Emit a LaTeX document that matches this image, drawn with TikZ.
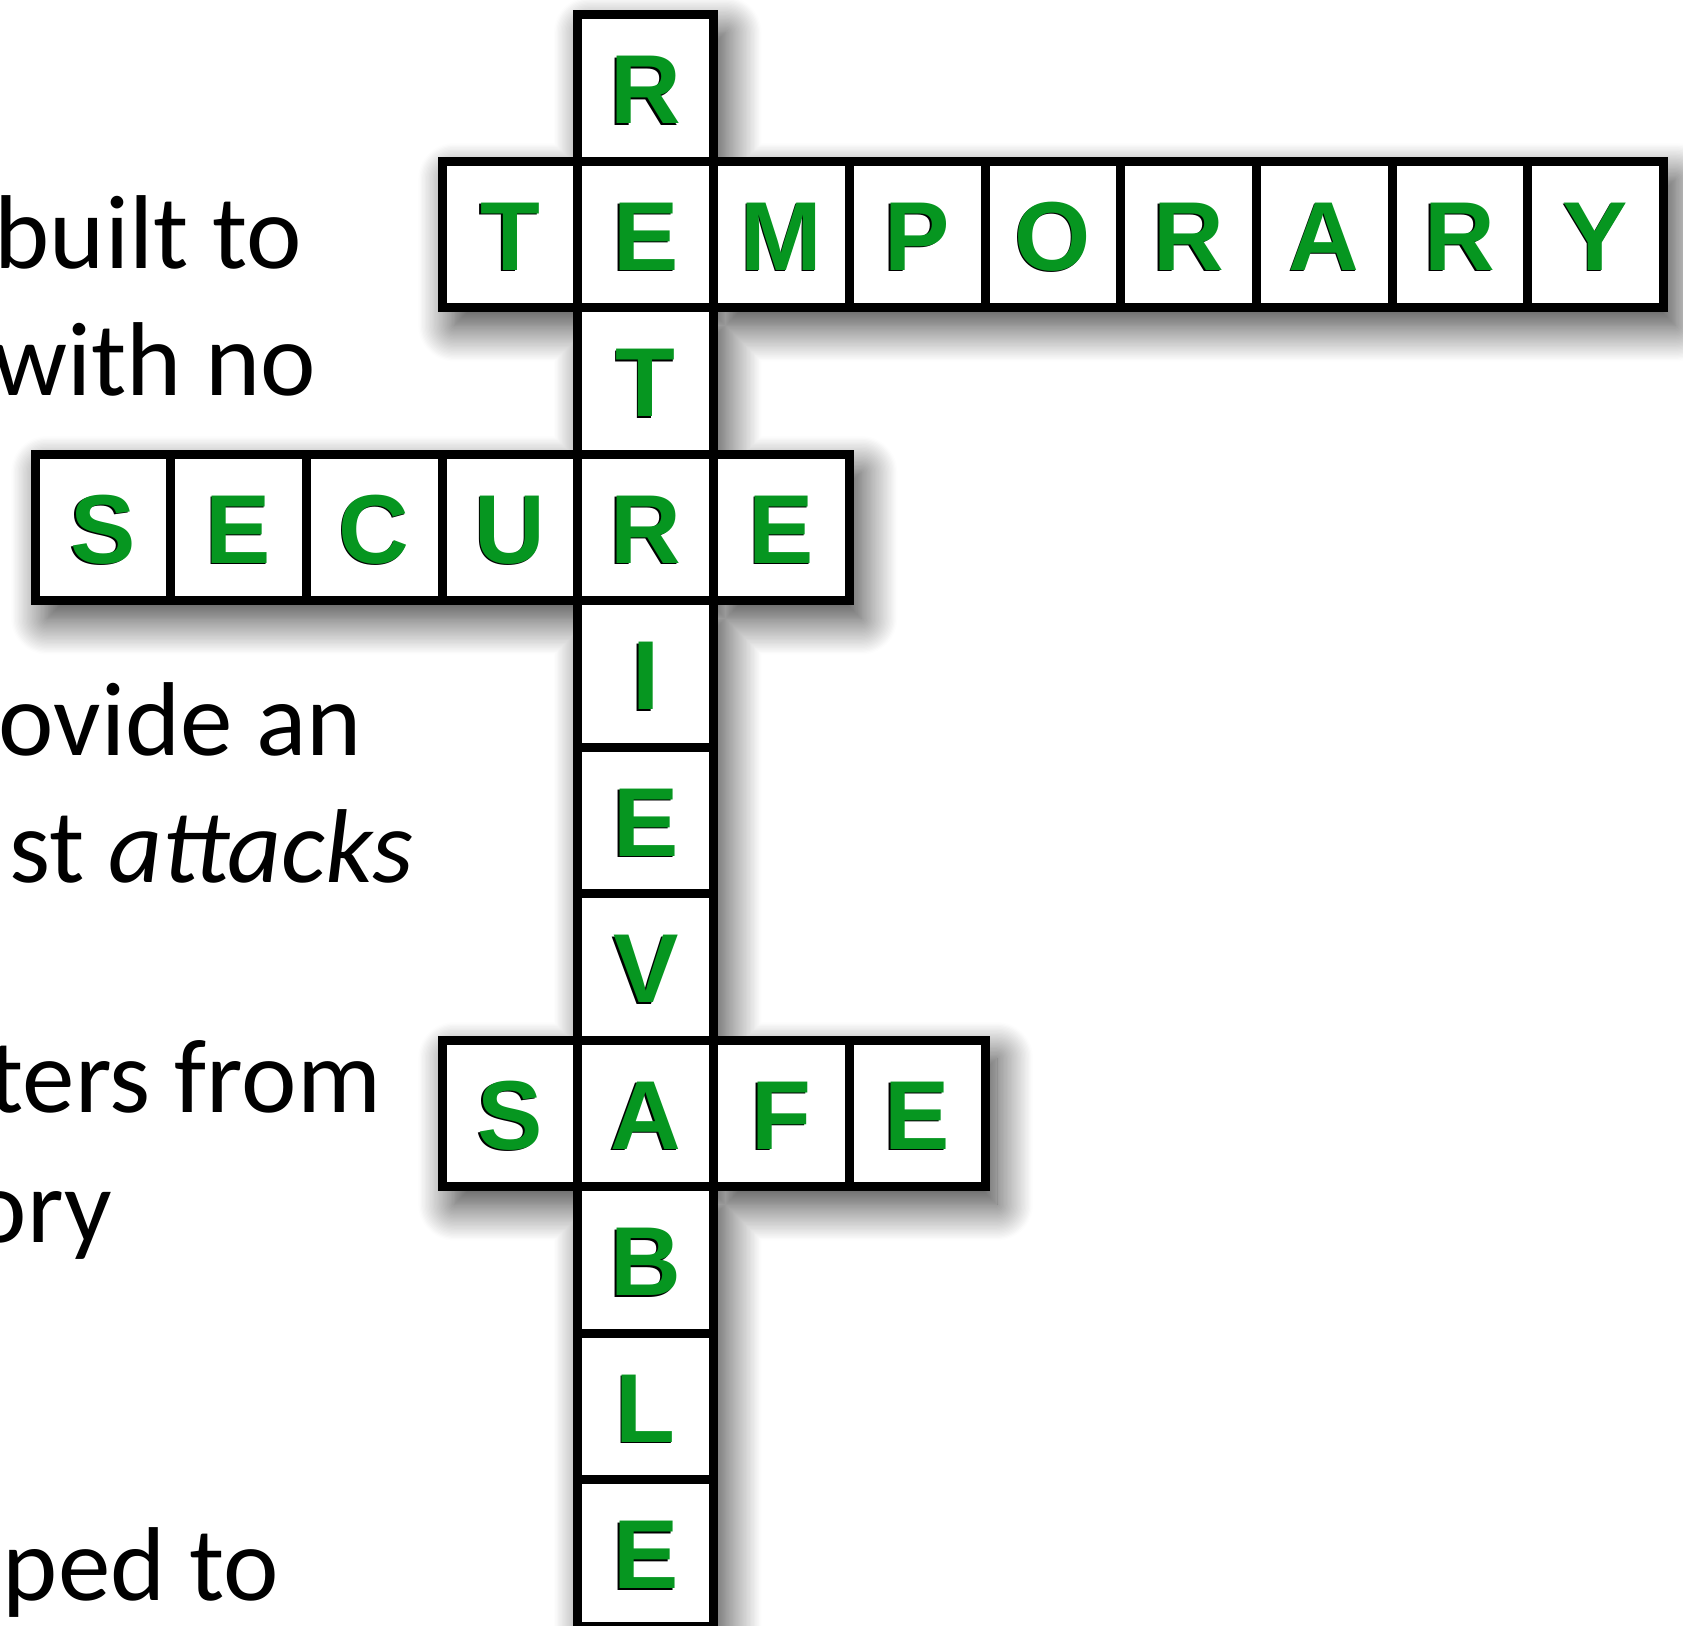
\documentclass[tikz,border=0pt]{standalone}
\usepackage{fontspec}
\setmainfont{Carlito}
\newfontfamily\lettfont{Liberation Sans}
\usetikzlibrary{shadows.blur,backgrounds}
\definecolor{lettgreen}{RGB}{6,150,32}
\tikzset{
  cell/.style={draw=black, fill=white, line width=9pt, rectangle, inner sep=0pt, outer sep=0pt,
    minimum width=135.7pt, minimum height=146.5pt},
  lett/.style={inner sep=0pt, text height=72pt, text depth=0pt, text=lettgreen,
    font=\lettfont\bfseries\fontsize{98}{98}\selectfont},
  letshadow/.style={lett, text=black},
  side/.style={inner sep=0pt, anchor=base east, font=\fontsize{105}{126}\selectfont},
  bigshadow/.style={blur shadow={shadow xshift=12pt, shadow yshift=-18pt, shadow blur radius=36pt, shadow blur steps=28, shadow opacity=80}}
}
\newcommand\lettr[2]{%
  \node[letshadow] (#1-s) at ([shift={(-1.6pt,-1.6pt)}]#1.center) {#2};
  \node[lett] (#1-t) at (#1.center) {#2};}
\begin{document}
\begin{tikzpicture}[x=1pt,y=-1pt]
\useasboundingbox (0,0) rectangle (1683,1625);
% vertical word
\foreach \l [count=\k from 0] in {R,E,T,R,I,E,V,A,B,L,E} {
  \node[cell] (v\k) at (645.75, 87.75+146.5*\k) {};
}
% TEMPORARY
\foreach \j in {-1,1,2,3,4,5,6,7} {
  \node[cell] (t\j) at (645.75+135.7*\j, 234.25) {};
}
% SECURE
\foreach \j in {-4,-3,-2,-1,1} {
  \node[cell] (s\j) at (645.75+135.7*\j, 527.25) {};
}
% SAFE
\foreach \j in {-1,1,2} {
  \node[cell] (f\j) at (645.75+135.7*\j, 1113.25) {};
}
% shadow
\begin{scope}[on background layer]
\path[fill=white, bigshadow]
  (v0.north west) rectangle (v10.south east)
  (t-1.north west) rectangle (t7.south east)
  (s-4.north west) rectangle (s1.south east)
  (f-1.north west) rectangle (f2.south east);
\end{scope}
% letters
\foreach \l [count=\k from 0] in {R,E,T,R,I,E,V,A,B,L,E} { \lettr{v\k}{\l} }
\foreach \j/\l in {-1/T,1/M,2/P,3/O,4/R,5/A,6/R,7/Y} { \lettr{t\j}{\l} }
\foreach \j/\l in {-4/S,-3/E,-2/C,-1/U,1/E} { \lettr{s\j}{\l} }
\foreach \j/\l in {-1/S,1/F,2/E} { \lettr{f\j}{\l} }
% side text
\node[side] (x1) at (302,268) {built to};
\node[side] (x2) at (316,395) {with no};
\node[side] (x3) at (362,755) {ovide an};
\node[side] (x4) at (413,882) {st \textit{attacks}};
\node[side] (x5) at (381,1112) {ters from};
\node[side] (x6) at (112,1242) {ory};
\node[side] (x7) at (279,1600) {ped to};
\end{tikzpicture}
\end{document}
